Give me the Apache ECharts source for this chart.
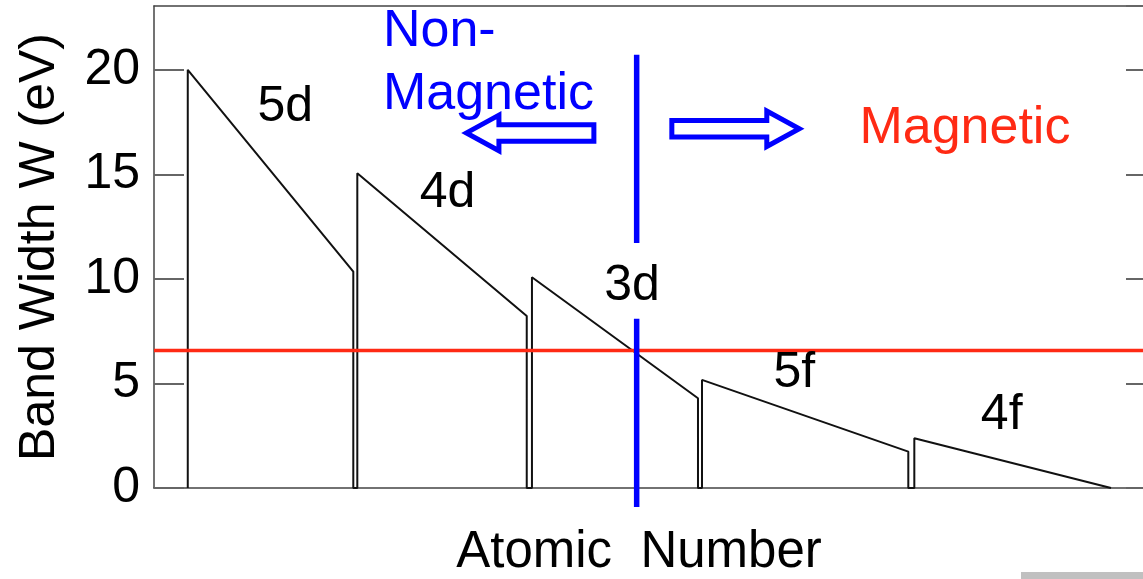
<!DOCTYPE html>
<html>
<head>
<meta charset="utf-8">
<script src="https://cdn.jsdelivr.net/npm/echarts@6/dist/echarts.min.js"></script>
<style>
  html, body { margin: 0; padding: 0; background: #fff; }
  #chart { width: 1143px; height: 579px; }
</style>
</head>
<body>
<div id="chart"></div>
<script>
// band width sawtooth (x = position along atomic number axis, 0..100)
const bandCurve = [
  [3.37, 0], [3.37, 20], [19.89, 10.35], [19.89, 0],
  [20.29, 0], [20.29, 15.05], [37.2, 8.23], [37.2, 0],
  [37.72, 0], [37.72, 10.08], [54.29, 4.29], [54.29, 0],
  [54.69, 0], [54.69, 5.17], [75.28, 1.74], [75.28, 0],
  [75.88, 0], [75.88, 2.38], [95.51, 0],
]
const bandLabels = [
  [13.1, 18.2, '5d'],
  [29.3, 14.1, '4d'],
  [47.7, 9.65, '3d'],
  [63.9, 5.5, '5f'],
  [84.6, 3.5, '4f'],
]
const stonerLevel = 6.57
const dividerX = 48.17
const dividerUpper = [20.72, 11.72]
const dividerLower = [8.09, -0.91]
// arrows: [fromX, toX, y]
const arrows = [
  [43.9, 31.18, 16.98],
  [51.68, 64.4, 17.18],
]
const regionTexts = [
  [22.85, 20.3, 'Non-\nMagnetic', '#0000ff'],
  [70.4, 17.2, 'Magnetic', '#ff2a14'],
]
const yTicks = [0, 5, 10, 15, 20]

const font = 'Liberation Sans, Arial, Helvetica, sans-serif'
const chart = echarts.init(document.getElementById('chart'))

const frameLine = { show: true, onZero: false, lineStyle: { color: '#444', width: 1.5 } }

chart.setOption({
  backgroundColor: '#fff',
  animation: false,
  grid: { left: 154, top: 6, width: 1002, height: 482, outerBoundsMode: 'none', containLabel: false },
  xAxis: [
    {
      type: 'value', min: 0, max: 100,
      axisLine: frameLine, axisTick: { show: false }, axisLabel: { show: false },
      splitLine: { show: false },
      name: 'Atomic  Number', nameLocation: 'middle', nameGap: 39,
      nameTextStyle: { fontSize: 51, color: '#000', fontFamily: font, padding: [0, 32, 0, 0] },
    },
    {
      type: 'value', min: 0, max: 100, position: 'top',
      axisLine: frameLine, axisTick: { show: false }, axisLabel: { show: false },
      splitLine: { show: false },
    },
  ],
  yAxis: [
    {
      type: 'value', min: 0, max: 23.05, interval: 5,
      axisLine: frameLine,
      axisTick: { show: true, inside: true, length: 30, lineStyle: { color: '#666', width: 2 } },
      axisLabel: {
        fontSize: 50, color: '#000', fontFamily: font, margin: 14, showMaxLabel: false,
        formatter: (v) => (yTicks.includes(v) ? String(v) : ''),
      },
      splitLine: { show: false },
      name: 'Band Width W (eV)', nameLocation: 'middle', nameRotate: 90, nameGap: 89,
      nameTextStyle: { fontSize: 50, color: '#000', fontFamily: font },
    },
    {
      type: 'value', min: 0, max: 23.05, interval: 5, position: 'right',
      axisLine: frameLine,
      axisTick: { show: true, inside: true, length: 30, lineStyle: { color: '#666', width: 2 } },
      axisLabel: { show: false },
      splitLine: { show: false },
    },
  ],
  series: [
    {
      type: 'line', data: bandCurve, symbol: 'none', z: 2,
      lineStyle: { color: '#111', width: 2 },
    },
    {
      type: 'line', data: [[0, stonerLevel], [100, stonerLevel]], symbol: 'none', z: 3,
      lineStyle: { color: '#ff2a14', width: 3.5 },
    },
    {
      type: 'line', data: dividerUpper.map((v) => [dividerX, v]), symbol: 'none', z: 4, clip: false,
      lineStyle: { color: '#0000ff', width: 5.5, cap: 'butt' },
    },
    {
      type: 'line', data: dividerLower.map((v) => [dividerX, v]), symbol: 'none', z: 4, clip: false,
      lineStyle: { color: '#0000ff', width: 5.5, cap: 'butt' },
    },
    {
      type: 'custom', z: 5, clip: false,
      data: arrows,
      renderItem: (params, api) => {
        const p0 = api.coord([api.value(0), api.value(2)])
        const p1 = api.coord([api.value(1), api.value(2)])
        const dir = p1[0] > p0[0] ? 1 : -1
        const h = 8.3, H = 17.8, L = 32.5
        const y = p0[1]
        const back = p1[0] - dir * L
        return {
          type: 'polygon',
          shape: {
            points: [
              [p0[0], y - h], [back, y - h], [back, y - H], [p1[0], y],
              [back, y + H], [back, y + h], [p0[0], y + h],
            ],
          },
          style: { fill: '#fff', stroke: '#0000ff', lineWidth: 5, lineJoin: 'miter' },
        }
      },
    },
    {
      type: 'scatter', symbolSize: 0, z: 6,
      itemStyle: { opacity: 1 },
      data: bandLabels,
      label: {
        show: true, position: [0, 0], align: 'center', verticalAlign: 'middle', opacity: 1,
        formatter: (p) => p.value[2], fontSize: 50, color: '#000', fontFamily: font,
      },
    },
    {
      type: 'scatter', symbolSize: 0, z: 6, clip: false,
      itemStyle: { opacity: 1 },
      data: regionTexts.map((t) => ({
        value: [t[0], t[1]],
        label: {
          show: true, position: [0, 0], align: 'left', verticalAlign: 'middle', opacity: 1,
          formatter: t[2], fontSize: 52, lineHeight: 63, color: t[3], fontFamily: font,
        },
      })),
    },
  ],
  graphic: [
    { type: 'rect', right: 0, bottom: 0, shape: { width: 122, height: 7 }, style: { fill: '#c0c0c0' } },
  ],
})
</script>
</body>
</html>
